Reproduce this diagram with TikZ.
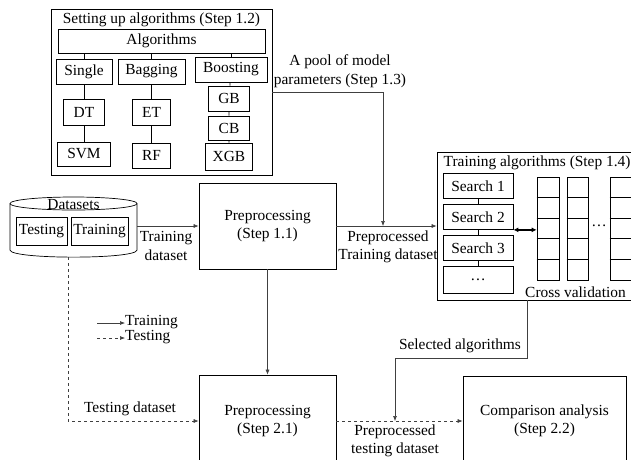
\documentclass[tikz,border=0pt]{standalone}
\usepackage{fontspec}
\setmainfont{Liberation Serif}
\usetikzlibrary{arrows.meta}

\begin{document}
\begin{tikzpicture}[x=1pt, y=-1pt,
		font=\fontsize{15.4}{18.5}\selectfont,
		box/.style={draw, line width=0.7pt, inner sep=0pt, align=center},
		link/.style={draw=black!75, line width=0.6pt},
		arr/.style={link, -{Latex[length=5pt,width=4pt]}},
		lbl/.style={align=center, inner sep=1pt}]
		\clip (0,0) rectangle (631,459);
		
		% Setting up algorithms
		\node[box, minimum width=221pt, minimum height=166pt] (setup) at (161.5,92) {};
		\node (setuptitle) at (161.5,20) {Setting up algorithms (Step 1.2)};
		\node[box, minimum width=207pt, minimum height=24pt] (algo) at (161.5,41) {Algorithms};
		\node[box, minimum width=56pt, minimum height=25pt] (single) at (84,71.5) {Single};
		\node[box, minimum width=67pt, minimum height=25pt] (bagging) at (151.5,71.5) {Bagging};
		\node[box, minimum width=72pt, minimum height=25pt] (boosting) at (231,69.5) {Boosting};
		\node[box, minimum width=41pt, minimum height=26pt] (dt) at (84,112) {DT};
		\node[box, minimum width=53pt, minimum height=24pt] (svm) at (84,154) {SVM};
		\node[box, minimum width=38pt, minimum height=26pt] (et) at (151.5,112) {ET};
		\node[box, minimum width=38pt, minimum height=25pt] (rf) at (151.5,155.5) {RF};
		\node[box, minimum width=41pt, minimum height=25pt] (gb) at (229,98.5) {GB};
		\node[box, minimum width=41pt, minimum height=24pt] (cb) at (229,128) {CB};
		\node[box, minimum width=47pt, minimum height=27pt] (xgb) at (229,156.5) {XGB};
		\foreach \a in {single,bagging,boosting}{
			\draw[line width=0.7pt] (\a.north) -- (\a.north |- algo.south);}
		\draw[line width=0.7pt] (single) -- (dt) (dt) -- (svm);
		\draw[line width=0.7pt] (bagging) -- (et) (et) -- (rf);
		\draw[line width=0.7pt] (boosting) -- (gb) (gb) -- (cb) (cb) -- (xgb);
		
		% Datasets
		\draw[line width=0.7pt] (73.5,203.5) ellipse [x radius=63.5pt, y radius=6.5pt];
		\draw[line width=0.7pt] (10,203.5) -- (10,250) .. controls (10,259.5) and (137,259.5) .. (137,250) -- (137,203.5);
		\node (dbtitle) at (73.5,205) {Datasets};
		\node[box, minimum width=51pt, minimum height=28pt] (testing) at (41.5,231) {Testing};
		\node[box, minimum width=57pt, minimum height=28pt] (training) at (99.5,231) {Training};
		\coordinate (dbright) at (137,226);
		\coordinate (dbbottom) at (68,257);
		
		% Preprocessing
		\node[box, minimum width=137pt, minimum height=86pt] (prep1) at (267.5,226) {Preprocessing\\(Step 1.1)};
		\node[box, minimum width=137pt, minimum height=92pt] (prep2) at (267.5,421) {Preprocessing\\(Step 2.1)};
		\draw[arr] (dbright) -- (dbright -| prep1.west);
		\node[lbl] (trainlbl) at (166,246) {Training\\dataset};
		\draw[arr] (prep1) -- (prep2);
		\draw[arr, dashed] (dbbottom) |- (prep2.west);
		\node[lbl] (testlbl) at (130,409) {Testing dataset};
		
		% Pool of parameters
		\node[lbl] (poollbl) at (340,71) {A pool of model\\parameters (Step 1.3)};
		\coordinate (pool) at (383,226);
		\draw[arr] (setup.east) -| (pool);
		
		% Training algorithms
		\node[box, minimum width=203pt, minimum height=148pt] (train) at (538.5,226) {};
		\node[anchor=west, inner sep=0pt] (traintitle) at (443.5,163) {Training algorithms (Step 1.4)};
		\draw[arr] (prep1.east) -- (train.west);
		\node[lbl] (preplbl) at (388,247) {Preprocessed\\Training dataset};
		\node[box, minimum width=70pt, minimum height=25pt] (s1) at (478,186) {Search 1};
		\node[box, minimum width=70pt, minimum height=25pt] (s2) at (478,217) {Search 2};
		\node[box, minimum width=70pt, minimum height=25pt] (s3) at (478,248) {Search 3};
		\node[box, minimum width=70pt, minimum height=27pt] (s4) at (478,280) {…};
		\draw[line width=0.7pt] (s1) -- (s2) (s2) -- (s3) (s3) -- (s4);
		
		% Cross validation
		\node[box, minimum width=22pt, minimum height=103pt] (cv1) at (548,228.5) {};
		\node[box, minimum width=21pt, minimum height=103pt] (cv2) at (577.5,228.5) {};
		\node[box, minimum width=22pt, minimum height=103pt] (cv3) at (621,228.5) {};
		\foreach \c in {cv1,cv2,cv3}{
			\foreach \k in {1,...,4}
				\draw[line width=0.7pt] ([yshift=-\k*20.6pt]\c.north west) -- ([yshift=-\k*20.6pt]\c.north east);}
		\node (cvdots) at (599,226) {…};
		\node (cvlbl) at (575.5,292) {Cross validation};
		\draw[{Latex[length=5pt,width=5pt]}-{Latex[length=5pt,width=5pt]}, line width=1.4pt] (s2.south east) -- (s2.south east -| cv1.west);
		
		% Comparison
		\node[box, minimum width=163pt, minimum height=90pt] (comp) at (544.5,421) {Comparison analysis\\(Step 2.2)};
		\draw[arr, dashed] (prep2) -- (comp);
		\node[lbl] (ptestlbl) at (395,441) {Preprocessed\\testing dataset};
		\coordinate (selbend) at (395,358);
		\draw[arr] ([xshift=-11.5pt]train.south) |- (selbend) -- (selbend |- prep2);
		\node[lbl] (sellbl) at (460,346) {Selected algorithms};
		
		% Legend
		\node[anchor=west, inner sep=0pt] (legtrain) at (125,322) {Training};
		\node[anchor=west, inner sep=0pt] (legtest) at (125,337) {Testing};
		\coordinate (lega) at (97,323);
		\coordinate (legb) at (97,338);
		\draw[arr] (lega) -- (lega -| legtrain.west);
		\draw[arr, dashed] (legb) -- (legb -| legtest.west);
	\end{tikzpicture}
\end{document}
